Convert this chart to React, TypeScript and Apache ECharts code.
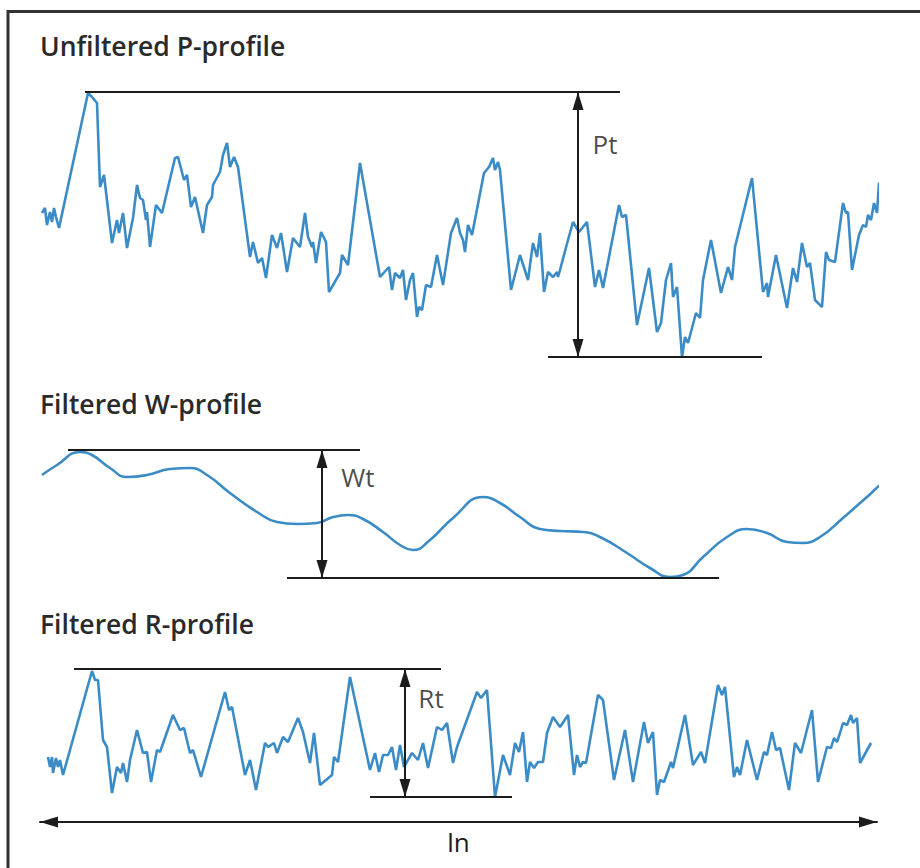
import React, { useEffect, useRef } from "react";
import * as echarts from "echarts";

// Evaluation length in sample units (axis spans the "ln" arrow)
const LN_MAX = 837;

// Unfiltered P-profile: [position, height]
const pProfile: number[][] = [
  [2,144],[5,149],[7,132],[10,145],[12,135],[14,149],[16,140],[19,129],[48,264],[52,260],[57,254],[60,170],
  [64,182],[72,114],[77,137],[79,124],[83,144],[87,109],[93,139],[97,172],[100,159],[103,157],[106,137],[107,145],
  [110,110],[116,152],[122,144],[135,199],[138,200],[144,177],[147,182],[151,150],[155,160],[163,124],[167,152],[172,160],
  [173,172],[180,185],[183,202],[187,214],[190,190],[194,200],[198,190],[210,100],[213,115],[218,94],[222,99],[226,79],
  [232,122],[237,109],[241,124],[247,85],[253,119],[260,110],[265,144],[268,120],[272,110],[273,115],[276,94],[281,125],
  [286,115],[289,65],[300,84],[302,102],[308,92],[320,194],[340,80],[349,90],[352,67],[355,84],[360,79],[363,87],
  [366,57],[370,77],[373,84],[377,40],[379,50],[382,47],[386,72],[391,70],[397,102],[403,72],[411,124],[417,139],
  [420,124],[423,117],[425,105],[428,132],[432,122],[444,184],[449,190],[453,199],[455,187],[458,195],[460,187],[471,67],
  [480,102],[488,77],[493,114],[497,100],[500,124],[504,65],[508,85],[513,80],[517,85],[518,80],[520,87],[528,117],
  [533,135],[539,125],[547,135],[555,70],[559,87],[563,69],[579,152],[582,140],[586,142],[597,32],[609,89],[617,25],
  [621,34],[626,77],[631,94],[633,60],[637,70],[642,0],[645,20],[648,14],[656,44],[660,39],[663,77],[671,117],
  [681,64],[688,90],[692,77],[695,110],[712,179],[723,65],[727,74],[728,60],[736,102],[747,49],[753,89],[757,75],
  [762,114],[767,90],[770,94],[775,57],[782,50],[786,105],[789,97],[795,95],[803,154],[806,144],[808,145],[812,87],
  [819,122],[823,132],[826,130],[828,142],[831,137],[834,154],[837,144],[839,174],[845,172],[847,182],[850,180],[853,190],
  [856,137],[862,159]
];

// Filtered W-profile (waviness)
const wProfile: number[][] = [
  [2,103],[17,113],[40,126],[52,123],[70,110],[87,101],[107,103],[130,109],[150,110],[167,103],[190,85],[217,66],
  [237,56],[257,54],[277,55],[293,61],[308,63],[323,59],[343,46],[360,33],[373,28],[390,38],[413,60],[443,81],
  [460,75],[480,61],[500,49],[520,47],[543,46],[560,41],[587,25],[610,10],[630,1],[643,3],[663,21],[687,41],
  [707,49],[727,45],[747,36],[763,35],[780,41],[803,60],[827,81],[847,98],[862,103]
];

// Filtered R-profile (roughness)
const rProfile: number[][] = [
  [8,40],[10,30],[12,40],[13,24],[16,39],[18,30],[20,37],[23,22],[52,126],[55,117],[58,117],[63,57],
  [67,50],[72,4],[77,30],[81,24],[83,34],[87,15],[90,37],[97,67],[103,44],[107,45],[111,15],[117,47],
  [120,45],[133,82],[140,67],[144,69],[150,44],[153,47],[161,20],[185,105],[189,87],[192,90],[205,22],[210,37],
  [216,7],[225,54],[228,50],[234,54],[237,44],[243,60],[248,55],[258,79],[263,65],[270,34],[274,64],[280,12],
  [292,22],[294,40],[298,35],[310,120],[330,27],[335,44],[339,25],[343,42],[348,42],[352,50],[356,27],[360,52],
  [364,30],[372,44],[378,37],[383,54],[388,29],[397,70],[402,67],[407,74],[413,34],[417,50],[437,105],[441,99],
  [447,107],[455,0],[463,42],[470,22],[475,54],[479,45],[483,65],[487,15],[490,35],[494,29],[498,35],[503,35],
  [507,64],[513,80],[520,70],[528,82],[534,22],[537,42],[540,30],[543,35],[546,34],[558,102],[563,97],[574,17],
  [585,67],[593,15],[604,75],[608,54],[613,65],[617,2],[620,17],[624,15],[631,35],[633,29],[645,82],[653,32],
  [661,45],[665,34],[678,112],[682,102],[685,110],[694,20],[697,30],[700,22],[707,57],[717,17],[724,45],[727,42],
  [732,65],[736,47],[740,49],[749,7],[755,54],[761,44],[772,87],[778,15],[787,50],[791,49],[794,59],[797,55],
  [800,64],[803,74],[807,72],[811,82],[813,74],[817,79],[820,34],[831,54]
];

// Height ranges (peak-to-valley) of each profile
const ptMax = 265;
const wtMax = 128;
const rtMax = 128;

// Reference lines: [x start, x end] for the peak line and the valley line, and arrow position
const pLines = { top: [45, 580], bottom: [508, 722], arrow: 538 };
const wLines = { top: [28, 320], bottom: [247, 679], arrow: 282 };
const rLines = { top: [34, 401], bottom: [330, 472], arrow: 365 };

// Label positions [x, y] in data units
const pLabel = { name: "Pt", value: [565, 213] };
const wLabel = { name: "Wt", value: [318, 101] };
const rLabel = { name: "Rt", value: [391, 99] };

const titles = ["Unfiltered P-profile", "Filtered W-profile", "Filtered R-profile"];

const FONT = "'Open Sans', 'Noto Sans', sans-serif";
const BLUE = "#3b8cc6";
const INK = "#1c1c1c";

function refLines(l: { top: number[]; bottom: number[]; arrow: number }, max: number) {
  return {
    silent: true,
    symbol: ["triangle", "triangle"],
    symbolSize: [11, 18],
    symbolOffset: [[0, 9], [0, 9]],
    label: { show: false },
    lineStyle: { color: INK, width: 2, type: "solid" },
    emphasis: { disabled: true },
    data: [
      [{ coord: [l.top[0], max], symbol: "none" }, { coord: [l.top[1], max], symbol: "none" }],
      [{ coord: [l.bottom[0], 0], symbol: "none" }, { coord: [l.bottom[1], 0], symbol: "none" }],
      [{ coord: [l.arrow, 0] }, { coord: [l.arrow, max] }],
    ],
  };
}

function labelSeries(idx: number, item: { name: string; value: number[] }) {
  return {
    type: "scatter",
    xAxisIndex: idx,
    yAxisIndex: idx,
    symbolSize: 1,
    itemStyle: { color: "transparent" },
    silent: true,
    label: {
      show: true,
      position: "inside",
      formatter: "{b}",
      fontFamily: FONT,
      fontSize: 26,
      color: INK,
    },
    data: [item],
  };
}

export default function App() {
  const ref = useRef<HTMLDivElement>(null);
  useEffect(() => {
    if (!ref.current) return;
    const chart = echarts.init(ref.current, undefined, { renderer: "svg" });
    const hiddenX = (idx: number) => ({
      type: "value", gridIndex: idx, min: 0, max: LN_MAX, show: false,
    });
    const hiddenY = (idx: number, max: number) => ({
      type: "value", gridIndex: idx, min: 0, max, show: false,
    });
    chart.setOption({
      animation: false,
      backgroundColor: "#ffffff",
      grid: [
        { left: 40, right: 43, top: 92, height: 265 },
        { left: 40, right: 43, top: 450, height: 128 },
        { left: 40, right: 43, top: 669, height: 128 },
      ],
      xAxis: [
        hiddenX(0),
        hiddenX(1),
        {
          type: "value", gridIndex: 2, min: 0, max: LN_MAX, show: true,
          offset: 25,
          axisLine: {
            show: true, onZero: false,
            symbol: ["triangle", "triangle"],
            symbolSize: [11, 18],
            symbolOffset: [9, -9],
            lineStyle: { color: INK, width: 2 },
          },
          axisTick: { show: false },
          axisLabel: { show: false },
          splitLine: { show: false },
          name: "ln",
          nameLocation: "middle",
          nameGap: 7,
          nameTextStyle: { fontFamily: FONT, fontSize: 26, color: INK },
        },
      ],
      yAxis: [hiddenY(0, ptMax), hiddenY(1, wtMax), hiddenY(2, rtMax)],
      graphic: [
        {
          type: "rect", silent: true, z: 10,
          shape: { x: 8, y: 11.5, width: 1000, height: 1000 },
          style: { fill: "none", stroke: "#333333", lineWidth: 3 },
        },
        ...titles.map((t, i) => ({
          type: "text", silent: true,
          x: 40, y: [46, 404, 624][i],
          style: {
            text: t, fontFamily: FONT, fontSize: 26.5, fontWeight: 600,
            fill: "#2a2a2a", verticalAlign: "middle", align: "left",
          },
        })),
      ],
      series: [
        {
          type: "line", xAxisIndex: 0, yAxisIndex: 0, data: pProfile, clip: false,
          showSymbol: false, symbol: "none", lineStyle: { color: BLUE, width: 2.6 },
          markLine: refLines(pLines, ptMax),
        },
        {
          type: "line", xAxisIndex: 1, yAxisIndex: 1, data: wProfile, clip: false, smooth: 0.5,
          showSymbol: false, symbol: "none", lineStyle: { color: BLUE, width: 2.6 },
          markLine: refLines(wLines, wtMax),
        },
        {
          type: "line", xAxisIndex: 2, yAxisIndex: 2, data: rProfile, clip: false,
          showSymbol: false, symbol: "none", lineStyle: { color: BLUE, width: 2.6 },
          markLine: refLines(rLines, rtMax),
        },
        labelSeries(0, pLabel),
        labelSeries(1, wLabel),
        labelSeries(2, rLabel),
      ],
    });
    return () => chart.dispose();
  }, []);
  return (
    <div
      ref={ref}
      style={{ position: "fixed", left: 0, top: 0, width: 920, height: 868, background: "#fff" }}
    />
  );
}
